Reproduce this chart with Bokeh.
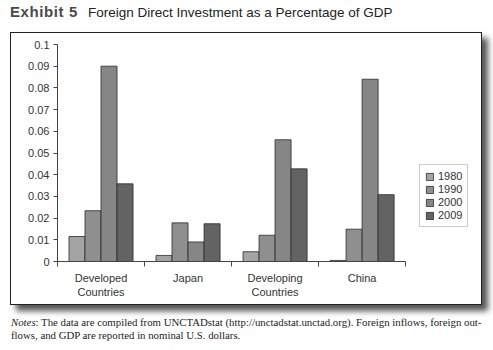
from bokeh.plotting import figure
from bokeh.models import ColumnDataSource, FixedTicker, Legend, LegendItem, Div, Range1d
from bokeh.layouts import column
from bokeh.transform import dodge
from bokeh.embed import file_html
from bokeh.resources import INLINE

categories = ["Developed Countries", "Japan", "Developing Countries", "China"]
category_labels = ["Developed\nCountries", "Japan", "Developing\nCountries", "China"]
years = ["1980", "1990", "2000", "2009"]
fdi_1980 = [0.0115, 0.0028, 0.0045, 0.0005]
fdi_1990 = [0.0234, 0.0178, 0.0121, 0.0149]
fdi_2000 = [0.0900, 0.0090, 0.0561, 0.0840]
fdi_2009 = [0.0358, 0.0174, 0.0427, 0.0308]
y_ticks = [0, 0.01, 0.02, 0.03, 0.04, 0.05, 0.06, 0.07, 0.08, 0.09, 0.1]
y_tick_labels = ["0", "0.01", "0.02", "0.03", "0.04", "0.05", "0.06", "0.07", "0.08", "0.09", "0.1"]

colors = ["#a4a4a4", "#8f8f8f", "#868686", "#636363"]
offsets = [-0.276, -0.092, 0.092, 0.276]
bar_w = 0.184

centers = [i + 0.5 for i in range(len(categories))]
source = ColumnDataSource(data=dict(
    x=centers, cat=categories,
    y1980=fdi_1980, y1990=fdi_1990, y2000=fdi_2000, y2009=fdi_2009,
))

p = figure(width=472, height=273, output_backend="svg", toolbar_location=None,
           x_range=Range1d(0, 4.78), y_range=Range1d(0, 0.1),
           min_border_left=46, min_border_right=10, min_border_top=11, min_border_bottom=45,
           styles={"border": "1.5px solid #222", "box-shadow": "6px 6px 6px #555"},
           margin=(5, 0, 0, 10))
p.outline_line_color = None
p.xgrid.visible = False
p.ygrid.visible = False

renderers = []
for yr, col, off in zip(years, colors, offsets):
    r = p.vbar(x=dodge("x", off), top="y" + yr, width=bar_w, bottom=0, source=source,
               fill_color=col, line_color="#2a2a2a", line_width=0.8)
    renderers.append(r)

font = "Liberation Sans"
xa = p.xaxis[0]
xa.ticker = FixedTicker(ticks=centers, minor_ticks=list(range(len(categories) + 1)))
xa.bounds = (0, len(categories))
xa.major_label_overrides = {c: lab for c, lab in zip(centers, category_labels)}
xa.major_tick_out = 0
xa.major_tick_in = 0
xa.minor_tick_out = 5
xa.minor_tick_in = 0
xa.minor_tick_line_color = "#444"
xa.axis_line_color = "#444"
xa.major_label_text_font = font
xa.major_label_text_font_size = "11px"
xa.major_label_text_color = "#333"
xa.major_label_standoff = 5

ya = p.yaxis[0]
ya.ticker = FixedTicker(ticks=y_ticks, minor_ticks=[])
ya.bounds = (0, 0.1)
ya.major_label_overrides = {t: lab for t, lab in zip(y_ticks, y_tick_labels)}
ya.major_tick_out = 4
ya.major_tick_in = 0
ya.major_tick_line_color = "#444"
ya.axis_line_color = "#444"
ya.major_label_text_font = font
ya.major_label_text_font_size = "11px"
ya.major_label_text_color = "#333"
ya.major_label_standoff = 4

legend = Legend(items=[LegendItem(label=yr, renderers=[r]) for yr, r in zip(years, renderers)],
                location=(362, 34))
legend.border_line_color = "#999"
legend.border_line_width = 1
legend.padding = 5
legend.spacing = 1
legend.margin = 0
legend.glyph_width = 9
legend.glyph_height = 9
legend.label_height = 12
legend.label_standoff = 4
legend.label_text_font = font
legend.label_text_font_size = "11px"
legend.label_text_color = "#333"
p.add_layout(legend)

title_div = Div(
    text='<span style="font-family:\'Liberation Sans\';font-weight:bold;font-size:15px;color:#4a4a4a;letter-spacing:0.6px">Exhibit 5</span>'
         '&nbsp;&nbsp;&nbsp;<span style="font-family:\'Liberation Sans\';font-size:13.5px;color:#222">Foreign Direct Investment as a Percentage of GDP</span>',
    width=480, height=26, margin=(1, 0, 0, 10))

notes_div = Div(
    text='<div style="font-family:\'Liberation Serif\';font-size:10.8px;color:#222;line-height:13px">'
         '<i>Notes</i>: The data are compiled from UNCTADstat (http://unctadstat.unctad.org). Foreign inflows, foreign out-<br>'
         'flows, and GDP are reported in nominal U.S. dollars.</div>',
    width=482, height=30, margin=(11, 0, 0, 11))

layout = column(title_div, p, notes_div, margin=0, spacing=0)

open("out.html", "w").write(file_html(layout, INLINE))
